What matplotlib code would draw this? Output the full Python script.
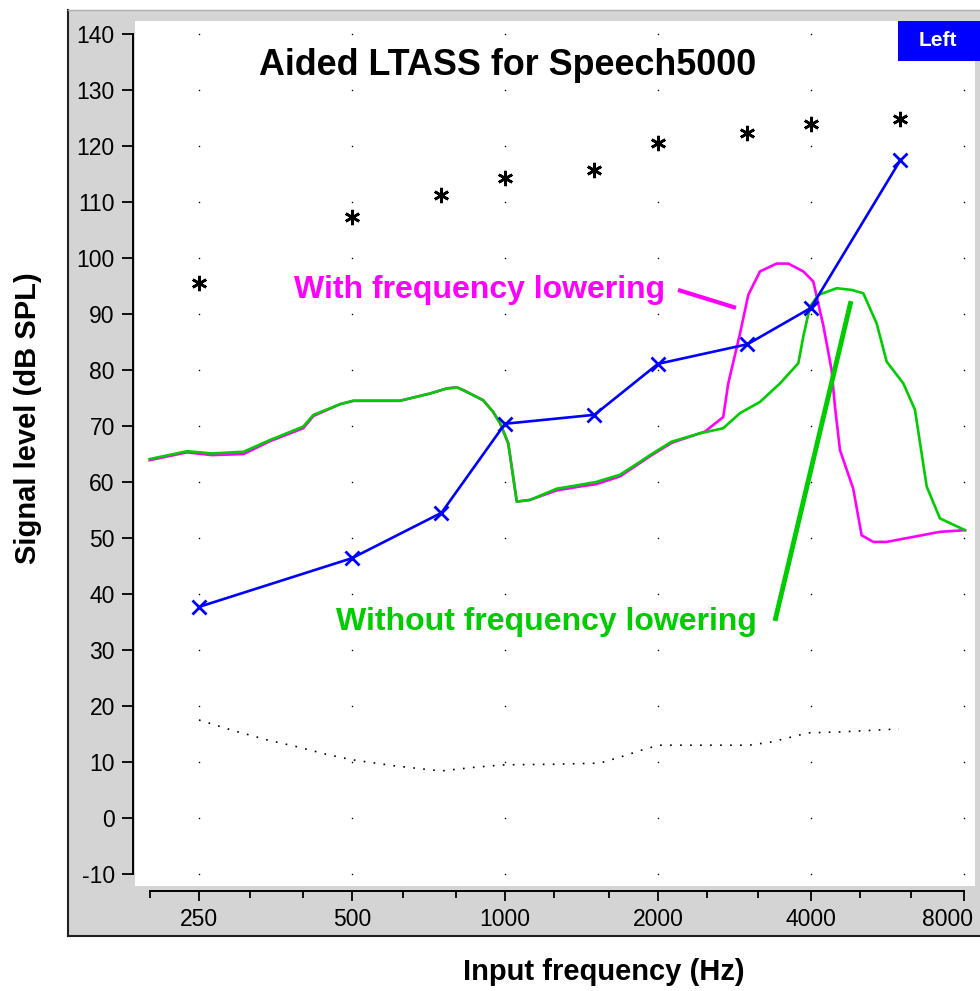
import numpy as np
import matplotlib
matplotlib.use('Agg')
import matplotlib.pyplot as plt
from matplotlib.patches import Rectangle
from matplotlib.ticker import FixedLocator, FixedFormatter, NullFormatter
from matplotlib.transforms import ScaledTranslation

plt.rcParams['font.family'] = ['Liberation Sans', 'DejaVu Sans']
plt.rcParams['axes.unicode_minus'] = False

# --- ejes ---
octave_freqs = [250, 500, 1000, 2000, 4000, 8000]
octave_labels = ['250', '500', '1000', '2000', '4000', '8000']
third_octave_freqs = [200, 315, 400, 630, 800, 1250, 1600, 2500, 3150, 5000, 6300]
level_ticks = list(range(-10, 150, 10))

# --- asteriscos negros ---
ucl_freqs = [250, 500, 750, 1000, 1500, 2000, 3000, 4000, 6000]
ucl_levels = [95.5, 107.3, 111.2, 114.3, 115.7, 120.6, 122.4, 123.9, 124.8]

# --- linea azul con X ---
thr_freqs = [250, 500, 750, 1000, 1500, 2000, 3000, 4000, 6000]
thr_levels = [37.7, 46.4, 54.5, 70.4, 72.0, 81.1, 84.6, 91.1, 117.5]

# --- linea punteada ---
dot_freqs = [250, 290, 342, 391, 444, 500, 608, 748, 880, 998, 1247, 1536,
             1688, 1854, 2007, 3026, 3355, 3948, 4633, 5956]
dot_levels = [17.5, 15.7, 13.9, 12.7, 11.4, 10.4, 9.3, 8.4, 9.1, 9.5, 9.6, 9.8,
              10.9, 12.1, 13.0, 13.0, 13.6, 15.2, 15.4, 15.9]

# --- sin reduccion de frecuencia (verde) ---
green_freqs = [200, 237, 265, 306, 345, 401, 420, 474, 503, 621, 712, 768, 804,
               828, 906, 948, 978, 1015, 1055, 1120, 1264, 1405, 1510, 1684,
               1844, 1929, 2128, 2420, 2688, 2900, 3175, 3476, 3777, 3864, 3982,
               4135, 4494, 4810, 5070, 5387, 5636, 6079, 6407, 6757, 7175, 8037]
green_levels = [64.1, 65.5, 65.1, 65.4, 67.5, 69.9, 72.0, 73.9, 74.5, 74.5, 75.8,
                76.7, 76.9, 76.4, 74.6, 72.5, 70.5, 66.9, 56.5, 56.8, 58.8, 59.5,
                60.0, 61.3, 63.6, 64.8, 67.2, 68.7, 69.6, 72.3, 74.3, 77.6, 81.2,
                86.0, 91.3, 93.4, 94.6, 94.3, 93.7, 88.3, 81.5, 77.6, 72.9, 59.2,
                53.5, 51.4]

# --- con reduccion de frecuencia (magenta) ---
mag_freqs = [200, 237, 265, 306, 345, 401, 420, 474, 503, 621, 712, 768, 804,
             828, 906, 948, 978, 1015, 1055, 1120, 1264, 1405, 1510, 1684,
             1844, 1929, 2128, 2474, 2688, 2750, 2900, 3011, 3175, 3424, 3610,
             3864, 4042, 4229, 4392, 4460, 4562, 4844, 5032, 5304, 5636, 6358,
             7175, 8037]
mag_levels = [63.9, 65.3, 64.8, 65.0, 67.3, 69.6, 71.8, 73.9, 74.5, 74.5, 75.8,
              76.7, 76.9, 76.4, 74.6, 72.5, 70.5, 66.9, 56.5, 56.8, 58.5, 59.2,
              59.6, 61.0, 63.4, 64.6, 67.0, 69.0, 71.6, 77.6, 86.5, 93.4, 97.6,
              99.0, 99.0, 97.6, 95.8, 88.0, 80.0, 73.4, 65.7, 58.8, 50.5, 49.3,
              49.3, 50.2, 51.1, 51.4]

# --- textos y flechas de anotacion (Hz, dB) ---
with_text_pos = (893, 92.9)
with_line = ([2190, 2848], [94.3, 91.1])
without_text_pos = (1204, 33.6)
without_line = ([3398, 4795], [35.2, 92.3])

GREEN = '#00cc00'
MAGENTA = '#ff00ff'
BLUE = '#0000ff'
GRAY = '#d4d4d4'

fig = plt.figure(figsize=(9.8, 9.91), dpi=100)
fig.patch.set_facecolor('white')

# panel gris de fondo
fig.add_artist(Rectangle((68 / 980, 55 / 991), 1.0, (981 - 55) / 991,
                         transform=fig.transFigure, facecolor=GRAY,
                         edgecolor='none', zorder=-2))
fig.add_artist(plt.Line2D([68 / 980, 68 / 980], [55 / 991, 981 / 991],
                          transform=fig.transFigure, color='#202020', lw=1.5, zorder=-1))
fig.add_artist(plt.Line2D([68 / 980, 1.0], [55 / 991, 55 / 991],
                          transform=fig.transFigure, color='#202020', lw=1.5, zorder=-1))
fig.add_artist(plt.Line2D([68 / 980, 1.0], [981 / 991, 981 / 991],
                          transform=fig.transFigure, color='#b0b0b0', lw=1, zorder=-1))

ax = fig.add_axes([135 / 980, 105 / 991, 840 / 980, 865 / 991])
ax.set_facecolor('white')
ax.set_xscale('log', base=2)
ax.set_xlim(187.1, 8410)
ax.set_ylim(-12.14, 142.32)

# rejilla de puntos
gx, gy = np.meshgrid(octave_freqs, level_ticks)
ax.scatter(gx.ravel(), gy.ravel(), s=1.2, color='black', linewidths=0, zorder=1)

ax.plot(dot_freqs, dot_levels, color='black', lw=1.2, linestyle=(0, (1, 5)), zorder=2)
ax.plot(mag_freqs, mag_levels, color=MAGENTA, lw=1.9, zorder=3)
ax.plot(green_freqs, green_levels, color=GREEN, lw=1.9, zorder=4)
ax.plot(thr_freqs, thr_levels, color=BLUE, lw=1.9, marker='x', markersize=10.5,
        markeredgewidth=2.0, zorder=5)
ax.plot(ucl_freqs, ucl_levels, linestyle='none', marker=(6, 2, 0), markersize=11,
        markeredgewidth=1.9, color='black', zorder=5)

# anotaciones
ax.text(*with_text_pos, 'With frequency lowering', color=MAGENTA, fontsize=23,
        fontweight='bold', ha='center', va='baseline', zorder=6)
ax.plot(*with_line, color=MAGENTA, lw=3, solid_capstyle='butt', zorder=6)
ax.text(*without_text_pos, 'Without frequency lowering', color=GREEN, fontsize=23,
        fontweight='bold', ha='center', va='baseline', zorder=6)
ax.plot(*without_line, color=GREEN, lw=3.5, solid_capstyle='butt', zorder=6)

ax.text(0.444, 0.9376, 'Aided LTASS for Speech5000', transform=ax.transAxes,
        fontsize=25.8, fontweight='bold', ha='center', va='baseline')

# espinas y marcas
ax.spines['top'].set_visible(False)
ax.spines['right'].set_visible(False)
ax.spines['left'].set_position(('outward', 1.5))
ax.spines['left'].set_bounds(-10, 140)
ax.spines['left'].set_linewidth(1.4)
ax.spines['bottom'].set_position(('outward', 3.5))
ax.spines['bottom'].set_bounds(200, 8000)
ax.spines['bottom'].set_linewidth(1.4)

ax.yaxis.set_major_locator(FixedLocator(level_ticks))
ax.xaxis.set_major_locator(FixedLocator(octave_freqs))
ax.xaxis.set_major_formatter(FixedFormatter(octave_labels))
ax.xaxis.set_minor_locator(FixedLocator(third_octave_freqs))
ax.xaxis.set_minor_formatter(NullFormatter())
ax.tick_params(axis='y', length=8, width=1.3, pad=5, labelsize=16.5)
ax.tick_params(axis='x', which='major', length=7, width=1.3, pad=5, labelsize=16.5)
ax.tick_params(axis='x', which='minor', length=5, width=1.3)

# la etiqueta 8000 queda desplazada hacia dentro, como en el original
last = ax.get_xticklabels()[-1]
last.set_transform(last.get_transform() + ScaledTranslation(-0.16, 0, fig.dpi_scale_trans))

# recuadro "Left"
fig.add_artist(Rectangle((898 / 980, 930 / 991), 0.1, 40 / 991,
                         transform=fig.transFigure, facecolor=BLUE,
                         edgecolor='none', zorder=5))
fig.text(938 / 980, 950 / 991, 'Left', color='white', fontsize=15,
         fontweight='bold', ha='center', va='center', zorder=6)

fig.text(28 / 980, 573 / 991, 'Signal level (dB SPL)', rotation=90, fontsize=21,
         fontweight='bold', ha='center', va='center')
fig.text(604 / 980, 19 / 991, 'Input frequency (Hz)', fontsize=21,
         fontweight='bold', ha='center', va='center')

fig.savefig('out.png', dpi=100)
